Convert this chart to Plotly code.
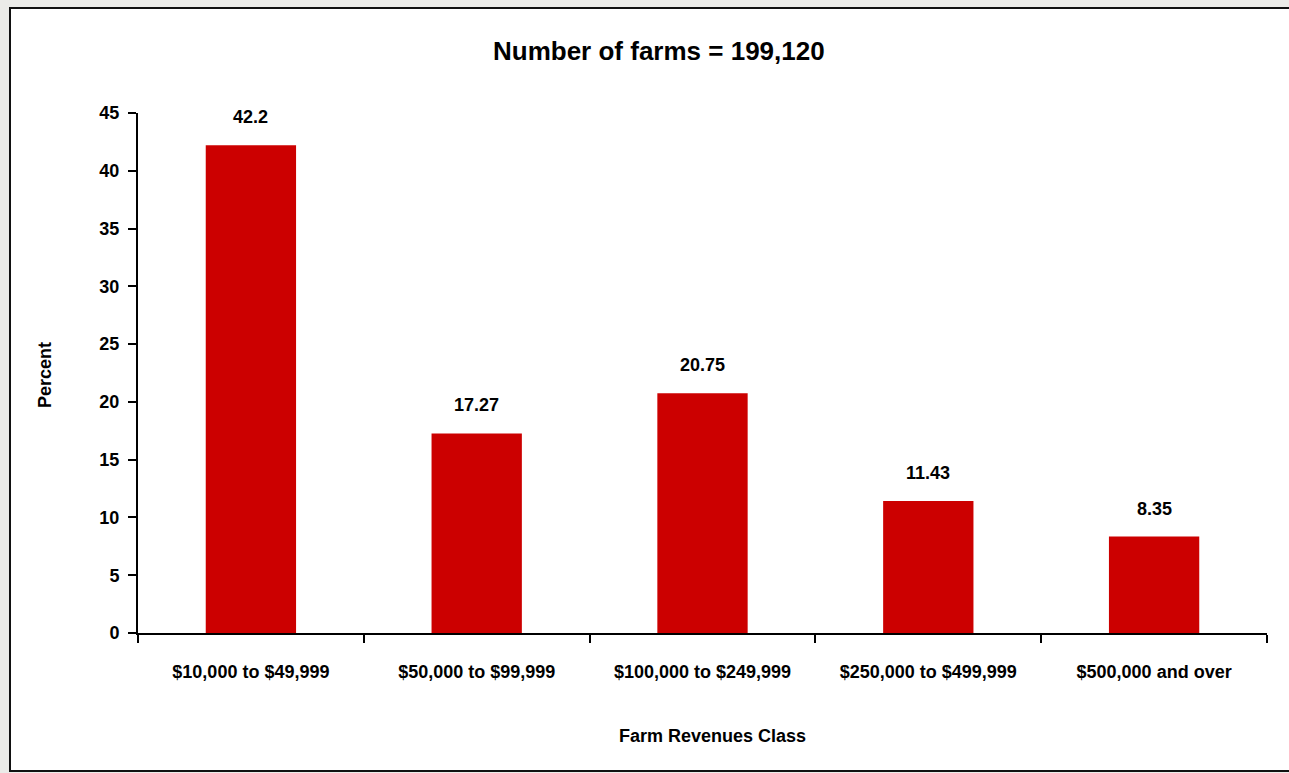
import plotly.graph_objects as go

categories = ["$10,000 to $49,999", "$50,000 to $99,999", "$100,000 to $249,999",
              "$250,000 to $499,999", "$500,000 and over"]
percent = [42.2, 17.27, 20.75, 11.43, 8.35]
labels = ["42.2", "17.27", "20.75", "11.43", "8.35"]
y_ticks = [0, 5, 10, 15, 20, 25, 30, 35, 40, 45]

W, H = 1289, 773
L, R, T, B = 138, 1267, 113, 633
pw, ph = R - L, B - T

FONT = "Liberation Sans, Arial, sans-serif"

fig = go.Figure()
fig.add_trace(go.Bar(x=categories, y=percent, marker=dict(color="#cc0000", line=dict(width=0)),
                     width=0.4, hoverinfo="skip"))

for c, v, t in zip(categories, percent, labels):
    fig.add_annotation(x=c, y=v, text="<b>" + t + "</b>", showarrow=False, yanchor="bottom", yshift=16,
                       font=dict(family=FONT, size=18, color="#000"))

def px_x(p):
    return (p - L) / pw

def px_y(p):
    return (B - p) / ph

fig.add_shape(type="rect", xref="paper", yref="paper",
              x0=px_x(10), x1=px_x(1295), y0=px_y(771), y1=px_y(8),
              fillcolor="white", line=dict(color="#111", width=2), layer="below")

fig.add_annotation(xref="paper", yref="paper", x=px_x(659), y=px_y(51), text="<b>Number of farms = 199,120</b>",
                   xanchor="center", yanchor="middle",
                   showarrow=False, font=dict(family=FONT, size=26, color="#000"))
fig.add_annotation(xref="paper", yref="paper", x=px_x(712), y=px_y(736), text="<b>Farm Revenues Class</b>",
                   xanchor="center", yanchor="middle",
                   showarrow=False, font=dict(family=FONT, size=18, color="#000"))
fig.add_annotation(xref="paper", yref="paper", x=px_x(45), y=px_y(375), text="<b>Percent</b>",
                   xanchor="center", yanchor="middle",
                   textangle=-90, showarrow=False, font=dict(family=FONT, size=18, color="#000"))

fig.update_layout(
    width=W, height=H,
    margin=dict(l=L, r=W - R, t=T, b=H - B, pad=0),
    paper_bgcolor="#ebebe8", plot_bgcolor="rgba(0,0,0,0)",
    showlegend=False,
    font=dict(family=FONT, size=18, color="#000"),
    bargap=0.6,
)
fig.update_xaxes(type="category", showline=True, linecolor="#000", linewidth=2,
                 ticks="outside", tickson="boundaries", ticklen=8, tickwidth=2, tickcolor="#000",
                 tickfont=dict(family=FONT, size=18, color="#000"), showgrid=False,
                 ticklabelstandoff=21, tickprefix="<b>", ticksuffix="</b>")
fig.update_yaxes(range=[0, 45], tickmode="array", tickvals=y_ticks,
                 ticktext=["<b>%d</b>" % v for v in y_ticks],
                 showline=True, linecolor="#000", linewidth=2,
                 ticks="outside", ticklen=8, tickwidth=2, tickcolor="#000", showgrid=False,
                 zeroline=False, tickfont=dict(family=FONT, size=18, color="#000"),
                 ticklabelstandoff=5)

fig.write_html("out.html", config={"displayModeBar": False},
               post_script="document.body.style.margin='0';document.body.style.overflow='hidden';")
